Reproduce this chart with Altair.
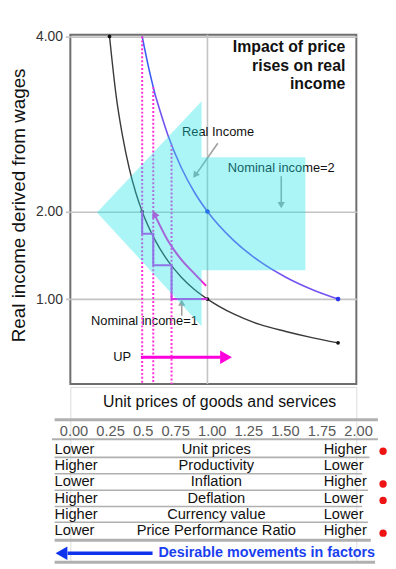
import altair as alt
import pandas as pd

FONT = "Liberation Sans"

# ---------------- main chart data ----------------
# Nominal income = 1 curve
nom1_x = [0.25, 0.30, 0.35, 0.40, 0.45, 0.50, 0.60, 0.70, 0.80, 0.90, 1.00, 1.20, 1.40, 1.60, 1.80, 2.00]
nom1_y = [4.00, 3.33, 2.86, 2.50, 2.22, 2.00, 1.67, 1.43, 1.25, 1.11, 1.00, 0.83, 0.71, 0.63, 0.56, 0.50]
nom1_dots_x = [0.25, 0.50, 1.00, 2.00]
nom1_dots_y = [4.00, 2.00, 1.00, 0.50]

# Nominal income = 2 curve
nom2_top_x = [0.50, 0.55, 0.60]
nom2_top_y = [4.00, 3.64, 3.33]
nom2_x = [0.60, 0.70, 0.80, 0.90, 1.00, 1.20, 1.40, 1.60, 1.80, 2.00]
nom2_y = [3.33, 2.86, 2.50, 2.22, 2.00, 1.67, 1.43, 1.25, 1.11, 1.00]
nom2_dots_x = [1.00, 2.00]
nom2_dots_y = [2.00, 1.00]

# price steps (dotted verticals and staircase)
step_x = [0.50, 0.585, 0.725]
step_top = [4.00, 3.42, 2.76]
stair_x = [0.50, 0.50, 0.585, 0.585, 0.725, 0.725, 1.00]
stair_y = [2.00, 1.745, 1.745, 1.386, 1.386, 1.00, 1.00]

# real-income curve with arrow
real_x = [0.60, 0.70, 0.80, 0.90, 0.99]
real_y = [1.95, 1.66, 1.45, 1.29, 1.15]

# big cyan arrow outline (tip, head, shaft)
cyan_x = [0.154, 0.955, 0.9551, 1.75]
cyan_top = [1.99, 3.26, 2.62, 2.62]
cyan_bot = [1.99, 0.69, 1.33, 1.33]

# ---------------- table data ----------------
tick_labels = ["0.00", "0.25", "0.5", "0.75", "1.00", "1.25", "1.50", "1.75", "2.00"]
left_col = ["Lower", "Higher", "Lower", "Higher", "Higher", "Lower"]
factors = ["Unit prices", "Productivity", "Inflation", "Deflation", "Currency value", "Price Performance Ratio"]
right_col = ["Higher", "Lower", "Higher", "Lower", "Lower", "Higher"]
red_dot = [True, False, True, True, False, True]

# ---------------- scales ----------------
xs = alt.Scale(domain=[-0.05, 2.14], nice=False, zero=False)
ys = alt.Scale(domain=[0.03, 4.02], nice=False, zero=False)
yaxis = alt.Axis(values=[1, 2, 4], format=".2f", grid=True, gridColor="#c4c4c4", gridWidth=1.6,
                 tickSize=5, tickColor="#c4c4c4", tickWidth=1.6, labelPadding=3, labelFlush=False,
                 labelFontSize=14, labelColor="#333333", labelFont=FONT, domain=False,
                 title="Real income derived from wages", titleFont=FONT, titleFontSize=19,
                 titleFontWeight="normal", titleColor="#111111", titleAngle=270,
                 titleBaseline="middle", titleAlign="center", titleX=-52, titleY=172)


def X(f):
    return alt.X(f, type="quantitative", scale=xs, axis=None)


def Y(f):
    return alt.Y(f, type="quantitative", scale=ys, axis=yaxis)


def df(**kw):
    return pd.DataFrame(kw)


vrule = alt.Chart(df(x=[1.0])).mark_rule(color="#c4c4c4", strokeWidth=1.6).encode(x=X("x"))

title_txt = alt.Chart(df(x=[2.056] * 3, y=[3.873, 3.666, 3.458],
                         t=["Impact of price", "rises on real", "income"])).mark_text(
    align="right", baseline="middle", font=FONT, fontSize=16, fontWeight="bold", color="#111111"
).encode(x=X("x"), y=Y("y"), text="t")

ann = alt.Chart(df(x=[0.805, 1.156, 0.108, 0.278], y=[2.904, 2.497, 0.753, 0.335],
                   t=["Real Income", "Nominal income=2", "Nominal income=1", "UP"])).mark_text(
    align="left", baseline="middle", font=FONT, fontSize=13, color="#111111"
).encode(x=X("x"), y=Y("y"), text="t")

black_line = alt.Chart(df(x=nom1_x, y=nom1_y)).mark_line(
    color="#3a3a3a", strokeWidth=1.4, interpolate="monotone").encode(x=X("x"), y=Y("y"))
black_dots = alt.Chart(df(x=nom1_dots_x, y=nom1_dots_y)).mark_point(
    filled=True, color="#111111", size=14, opacity=1).encode(x=X("x"), y=Y("y"))

blue_top = alt.Chart(df(x=nom2_top_x, y=nom2_top_y)).mark_line(
    color="#3b5cf2", strokeWidth=1.6, interpolate="monotone").encode(x=X("x"), y=Y("y"))
blue_line = alt.Chart(df(x=nom2_x, y=nom2_y)).mark_line(
    color="#7452f2", strokeWidth=1.6, interpolate="monotone").encode(x=X("x"), y=Y("y"))
blue_dots = alt.Chart(df(x=nom2_dots_x, y=nom2_dots_y)).mark_point(
    filled=True, color="#2b35ee", size=22, opacity=1).encode(x=X("x"), y=Y("y"))

dotted = alt.Chart(df(x=step_x, y=step_top, y2=[0.03] * 3)).mark_rule(
    color="#ff2fd8", strokeWidth=2, strokeDash=[2, 2]).encode(x=X("x"), y=Y("y"), y2="y2")

stair = alt.Chart(df(x=stair_x, y=stair_y, i=list(range(len(stair_x))))).mark_line(
    color="#d236e6", strokeWidth=2).encode(x=X("x"), y=Y("y"), order="i")

real_line = alt.Chart(df(x=real_x, y=real_y)).mark_line(
    color="#f21ed2", strokeWidth=2, interpolate="monotone").encode(x=X("x"), y=Y("y"))
real_head = alt.Chart(df(x=[0.597], y=[1.96])).mark_point(
    shape="triangle", filled=True, color="#f21ed2", size=70, angle=335, opacity=1).encode(x=X("x"), y=Y("y"))

up_line = alt.Chart(df(x=[0.49], x2=[1.10], y=[0.335])).mark_rule(
    color="#ff00dd", strokeWidth=3.2).encode(x=X("x"), x2="x2", y=Y("y"))
up_head = alt.Chart(df(x=[1.142], y=[0.335])).mark_point(
    shape="triangle-right", filled=True, color="#ff00dd", size=190, opacity=1).encode(x=X("x"), y=Y("y"))

arr_lines = alt.Chart(df(x=[1.079, 1.565, 0.803], x2=[0.919, 1.565, 0.803],
                         y=[2.780, 2.404, 0.810], y2=[2.438, 2.09, 0.94])).mark_rule(
    color="#a0a0a0", strokeWidth=1.6).encode(x=X("x"), x2="x2", y=Y("y"), y2="y2")
arr_heads = alt.Chart(df(x=[0.910, 1.565, 0.803], y=[2.424, 2.085, 0.948], a=[215, 180, 0])).mark_point(
    shape="triangle", filled=True, color="#a0a0a0", size=55, opacity=1).encode(
    x=X("x"), y=Y("y"), angle=alt.Angle("a", scale=None))

cyan = alt.Chart(df(x=cyan_x, y=cyan_top, y2=cyan_bot)).mark_area(
    color="#1ae3e7", opacity=0.36).encode(x=X("x"), y=Y("y"), y2="y2")

main = alt.layer(
    vrule, title_txt, ann, black_line, black_dots, blue_top, blue_line, blue_dots,
    dotted, stair, real_line, real_head, up_line, up_head, arr_lines, arr_heads, cyan
).properties(width=289, height=353,
             view=alt.ViewBackground(stroke="#6e6e6e", strokeWidth=2))

# ---------------- table chart ----------------
txs = alt.Scale(domain=[-0.021, 1.979], nice=False, zero=False)
tys = alt.Scale(domain=[-2.83, 7.81], reverse=True, nice=False, zero=False)


def TX(f):
    return alt.X(f, type="quantitative", scale=txs, axis=None)


def TY(f):
    return alt.Y(f, type="quantitative", scale=tys, axis=None)


rows = list(range(1, 7))

xtitle = alt.Chart(df(x=[1.023], r=[-1.88], t=["Unit prices of goods and services"])).mark_text(
    font=FONT, fontSize=16, color="#111111", baseline="middle").encode(x=TX("x"), y=TY("r"), text="t")

lines = alt.Chart(df(
    x=[-0.131, -0.15, -0.131, -0.131, -0.131, -0.131, -0.131, -0.131, -0.131],
    x2=[2.13, 2.13, 2.07, 2.02, 2.06, 2.02, 2.06, 2.08, 2.11],
    r=[-0.83, 0.36, 1.47, 2.475, 3.48, 4.47, 5.44, 6.54, 7.88],
    w=[3, 2, 1.6, 1.6, 1.6, 1.6, 1.6, 3, 3])).mark_rule(color="#b0b0b0").encode(
    x=TX("x"), x2="x2", y=TY("r"), strokeWidth=alt.StrokeWidth("w", scale=None))

ticks = alt.Chart(df(x=[-0.095], r=[-0.1], t=["\u00a0\u00a0".join(tick_labels)])).mark_text(
    font=FONT, fontSize=14.8, color="#5a5a5a", align="left", baseline="middle").encode(
    x=TX("x"), y=TY("r"), text="t")

left_t = alt.Chart(df(x=[-0.131] * 6, r=rows, t=left_col)).mark_text(
    font=FONT, fontSize=14.8, color="#111111", align="left", baseline="middle").encode(
    x=TX("x"), y=TY("r"), text="t")
mid_t = alt.Chart(df(x=[1.0] * 6, r=rows, t=factors)).mark_text(
    font=FONT, fontSize=14.8, color="#111111", align="center", baseline="middle").encode(
    x=TX("x"), y=TY("r"), text="t")
right_t = alt.Chart(df(x=[1.751] * 6, r=rows, t=right_col)).mark_text(
    font=FONT, fontSize=14.8, color="#111111", align="left", baseline="middle").encode(
    x=TX("x"), y=TY("r"), text="t")

dots_df = df(x=[2.166] * 6, r=[r + 0.1 for r in rows], on=red_dot)
red = alt.Chart(dots_df[dots_df["on"]]).mark_point(
    filled=True, color="#ee1414", size=55, opacity=1).encode(x=TX("x"), y=TY("r"))

blue_arrow = alt.Chart(df(x=[-0.04], x2=[0.554], r=[7.33])).mark_rule(
    color="#1034ee", strokeWidth=3.5).encode(x=TX("x"), x2="x2", y=TY("r"))
blue_head = alt.Chart(df(x=[-0.083], r=[7.33])).mark_point(
    shape="triangle-left", filled=True, color="#1034ee", size=190, opacity=1).encode(x=TX("x"), y=TY("r"))
blue_text = alt.Chart(df(x=[0.595], r=[7.33], t=["Desirable movements in factors"])).mark_text(
    font=FONT, fontSize=14.5, fontWeight="bold", color="#1a3ff0", align="left", baseline="middle").encode(
    x=TX("x"), y=TY("r"), text="t")

table = alt.layer(xtitle, lines, ticks, left_t, mid_t, right_t, red, blue_arrow, blue_head, blue_text
                  ).properties(width=289, height=176)

chart = alt.vconcat(main, table, spacing=0).properties(
    padding={"left": 0, "top": 17, "right": 0, "bottom": 0}
).configure_view(strokeWidth=0).configure(font=FONT)

chart.save("out.html", embed_options={"renderer": "svg", "actions": False})
